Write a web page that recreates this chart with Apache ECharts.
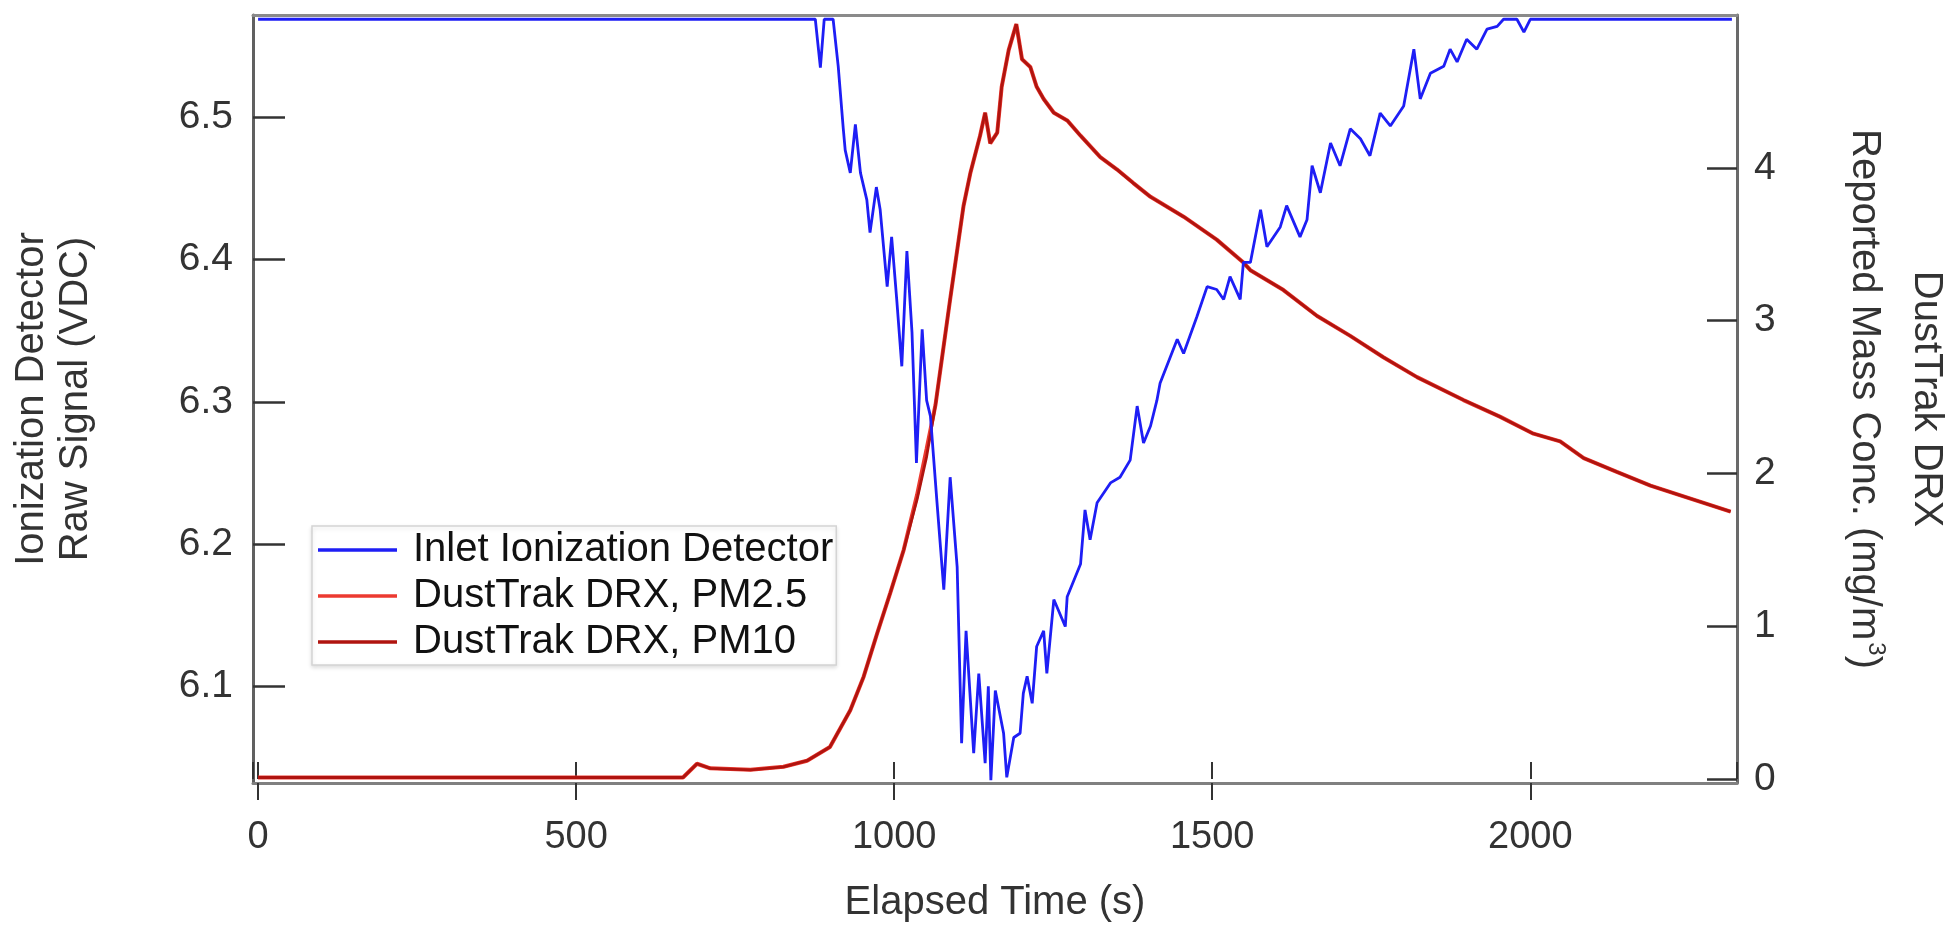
<!DOCTYPE html>
<html>
<head>
<meta charset="utf-8">
<script src="https://cdn.jsdelivr.net/npm/echarts@6/dist/echarts.min.js"></script>
<style>
  html, body { margin: 0; padding: 0; background: #fff; }
  #chart { width: 1950px; height: 928px; }
</style>
</head>
<body>
<div id="chart"></div>
<script>
// ionization detector raw signal (left axis, VDC)
const blueTime = [0, 876, 884, 890, 904, 912, 920, 923, 931, 939, 947, 957, 962, 972, 978, 989, 996, 1004, 1012, 1020,
  1028, 1035, 1044, 1051, 1057, 1067, 1078, 1088, 1099, 1106, 1113, 1125, 1133, 1143, 1148, 1152, 1159, 1172, 1177, 1188,
  1198, 1203, 1209, 1217, 1224, 1235, 1240, 1251, 1269, 1272, 1293, 1300, 1308, 1319, 1340, 1355, 1371, 1382, 1392, 1403,
  1413, 1418, 1445, 1455, 1476, 1492, 1507, 1518, 1528, 1544, 1549, 1560, 1576, 1586, 1607, 1617, 1638, 1649, 1657, 1670,
  1686, 1701, 1717, 1733, 1748, 1764, 1780, 1801, 1817, 1827, 1843, 1864, 1874, 1885, 1900, 1916, 1932, 1948, 1958, 1979,
  1990, 2000, 2317];
const blueVolt = [6.569, 6.569, 6.535, 6.569, 6.569, 6.536, 6.492, 6.477, 6.461, 6.495, 6.461, 6.442, 6.419, 6.451, 6.435, 6.381, 6.416, 6.372, 6.325, 6.406,
  6.349, 6.257, 6.351, 6.301, 6.290, 6.231, 6.168, 6.247, 6.184, 6.060, 6.139, 6.053, 6.109, 6.046, 6.100, 6.034, 6.097, 6.067, 6.036, 6.064,
  6.067, 6.095, 6.107, 6.088, 6.128, 6.139, 6.109, 6.161, 6.142, 6.163, 6.186, 6.224, 6.203, 6.229, 6.243, 6.247, 6.259, 6.297, 6.271, 6.283,
  6.301, 6.313, 6.344, 6.334, 6.360, 6.381, 6.379, 6.372, 6.388, 6.372, 6.398, 6.398, 6.435, 6.409, 6.423, 6.438, 6.416, 6.428, 6.466, 6.447,
  6.482, 6.466, 6.492, 6.485, 6.473, 6.503, 6.494, 6.508, 6.548, 6.513, 6.531, 6.536, 6.548, 6.539, 6.555, 6.548, 6.562, 6.564, 6.569, 6.569,
  6.560, 6.569, 6.569];

// DustTrak mass concentration (right axis, mg/m3)
const dustTime = [0, 668, 690, 711, 774, 826, 863, 899, 931, 952, 973, 994, 1015, 1036, 1051, 1065, 1088, 1109, 1120, 1135,
  1143, 1151, 1162, 1169, 1180, 1192, 1201, 1214, 1224, 1235, 1251, 1272, 1293, 1324, 1350, 1376, 1403, 1455, 1507, 1549,
  1560, 1612, 1665, 1717, 1769, 1822, 1895, 1953, 2005, 2047, 2084, 2136, 2189, 2241, 2315];
const pm25 = [0.01, 0.01, 0.10, 0.07, 0.06, 0.08, 0.12, 0.21, 0.45, 0.67, 0.95, 1.22, 1.50, 1.86, 2.16, 2.45, 3.14, 3.75, 3.97, 4.21,
  4.36, 4.16, 4.23, 4.53, 4.77, 4.94, 4.71, 4.66, 4.53, 4.45, 4.36, 4.31, 4.21, 4.07, 3.99, 3.90, 3.81, 3.68, 3.53, 3.38,
  3.33, 3.20, 3.03, 2.90, 2.76, 2.63, 2.48, 2.37, 2.26, 2.21, 2.10, 2.01, 1.92, 1.85, 1.75];
const pm10 = [0.01, 0.01, 0.10, 0.07, 0.06, 0.08, 0.12, 0.21, 0.45, 0.67, 0.95, 1.22, 1.50, 1.83, 2.11, 2.45, 3.14, 3.75, 3.97, 4.21,
  4.36, 4.16, 4.23, 4.53, 4.77, 4.94, 4.71, 4.66, 4.53, 4.45, 4.36, 4.31, 4.21, 4.07, 3.99, 3.90, 3.81, 3.68, 3.53, 3.38,
  3.33, 3.20, 3.03, 2.90, 2.76, 2.63, 2.48, 2.37, 2.26, 2.21, 2.10, 2.01, 1.92, 1.85, 1.75];

const seriesNames = ["Inlet Ionization Detector", "DustTrak DRX, PM2.5", "DustTrak DRX, PM10"];

const FONT = "'Liberation Sans', Arial, sans-serif";
const zip = (xs, ys) => xs.map((x, i) => [x, ys[i]]);
const plain = (v) => String(v);

const chart = echarts.init(document.getElementById("chart"), null, { renderer: "canvas" });

const xRange = { min: -8, max: 2325 };

chart.setOption({
  animation: false,
  backgroundColor: "#fff",
  grid: { left: 253, right: 213, top: 15, bottom: 145, outerBoundsMode: "none" },
  legend: {
    data: seriesNames,
    orient: "vertical",
    left: 312,
    top: 526,
    padding: [1, 3, 0, 6],
    itemGap: 0,
    icon: "rect",
    itemWidth: 79,
    itemHeight: 3.5,
    backgroundColor: "#fff",
    borderColor: "#d4d4d4",
    borderWidth: 1.5,
    shadowColor: "rgba(0,0,0,0.12)",
    shadowBlur: 4,
    shadowOffsetY: 2,
    textStyle: { fontFamily: FONT, fontSize: 40, lineHeight: 46, color: "#111", padding: [0, 0, 0, 11] },
  },
  xAxis: [
    {
      type: "value",
      ...xRange,
      splitNumber: 5,
      name: "Elapsed Time (s)",
      nameLocation: "middle",
      nameGap: 100,
      nameMoveOverlap: false,
      nameTextStyle: { fontFamily: FONT, fontSize: 40, color: "#333" },
      axisLine: { show: true, onZero: false, lineStyle: { color: "#808080", width: 3 } },
      axisTick: { show: true, inside: false, length: 17, lineStyle: { color: "#333", width: 2 } },
      axisLabel: { margin: 36, fontFamily: FONT, fontSize: 38, color: "#333", formatter: plain,
        showMinLabel: false, showMaxLabel: false },
      splitLine: { show: false },
    },
    {
      // upper half of the crossing x ticks
      type: "value",
      ...xRange,
      splitNumber: 5,
      position: "bottom",
      axisLine: { show: false },
      axisTick: { show: true, inside: true, length: 17, lineStyle: { color: "#333", width: 2 } },
      axisLabel: { show: false },
      splitLine: { show: false },
    },
    {
      // top frame
      type: "value",
      ...xRange,
      position: "top",
      axisLine: { show: true, onZero: false, lineStyle: { color: "#8a8a8a", width: 3 } },
      axisTick: { show: false },
      axisLabel: { show: false },
      splitLine: { show: false },
    },
  ],
  yAxis: [
    {
      type: "value",
      min: 6.032,
      max: 6.572,
      splitNumber: 5,
      position: "left",
      name: "Ionization Detector\nRaw Signal (VDC)",
      nameLocation: "middle",
      nameGap: 155,
      nameMoveOverlap: false,
      nameTextStyle: { fontFamily: FONT, fontSize: 40, lineHeight: 44, color: "#333" },
      axisLine: { show: true, onZero: false, lineStyle: { color: "#606060", width: 3 } },
      axisTick: { show: true, inside: true, length: 32, lineStyle: { color: "#333", width: 2.5 } },
      axisLabel: { margin: 20, fontFamily: FONT, fontSize: 39, color: "#333", showMinLabel: false, showMaxLabel: false },
      splitLine: { show: false },
    },
    {
      type: "value",
      min: -0.026,
      max: 5.0,
      splitNumber: 5,
      position: "right",
      name: "{t|DustTrak DRX}\n{u|Reported Mass Conc. (mg/m}{s|3}{u|)}",
      nameLocation: "middle",
      nameRotate: -90,
      nameGap: 87,
      nameMoveOverlap: false,
      nameTextStyle: {
        fontFamily: FONT,
        color: "#333",
        rich: {
          t: { fontFamily: FONT, fontSize: 40, lineHeight: 44, color: "#333" },
          u: { fontFamily: FONT, fontSize: 40, lineHeight: 80, color: "#333" },
          s: { fontFamily: FONT, fontSize: 24, lineHeight: 24, padding: [0, 0, 24, 2], color: "#333" },
        },
      },
      axisLine: { show: true, onZero: false, lineStyle: { color: "#6a6a6a", width: 3 } },
      axisTick: { show: true, inside: true, length: 30, lineStyle: { color: "#333", width: 2.5 } },
      axisLabel: { margin: 17, fontFamily: FONT, fontSize: 39, color: "#333", showMinLabel: false, showMaxLabel: false },
      splitLine: { show: false },
    },
  ],
  series: [
    {
      name: seriesNames[0],
      type: "line",
      xAxisIndex: 0,
      yAxisIndex: 0,
      data: zip(blueTime, blueVolt),
      showSymbol: false,
      symbol: "none",
      clip: true,
      z: 4,
      color: "#1e1ef5",
      lineStyle: { color: "#1e1ef5", width: 2.8 },
    },
    {
      name: seriesNames[1],
      type: "line",
      xAxisIndex: 0,
      yAxisIndex: 1,
      data: zip(dustTime, pm25),
      showSymbol: false,
      symbol: "none",
      clip: true,
      z: 2,
      color: "#ec3a30",
      lineStyle: { color: "#ec3a30", width: 4 },
    },
    {
      name: seriesNames[2],
      type: "line",
      xAxisIndex: 0,
      yAxisIndex: 1,
      data: zip(dustTime, pm10),
      showSymbol: false,
      symbol: "none",
      clip: true,
      z: 3,
      color: "#b0140f",
      lineStyle: { color: "#b0140f", width: 2.8 },
    },
  ],
});
</script>
</body>
</html>
